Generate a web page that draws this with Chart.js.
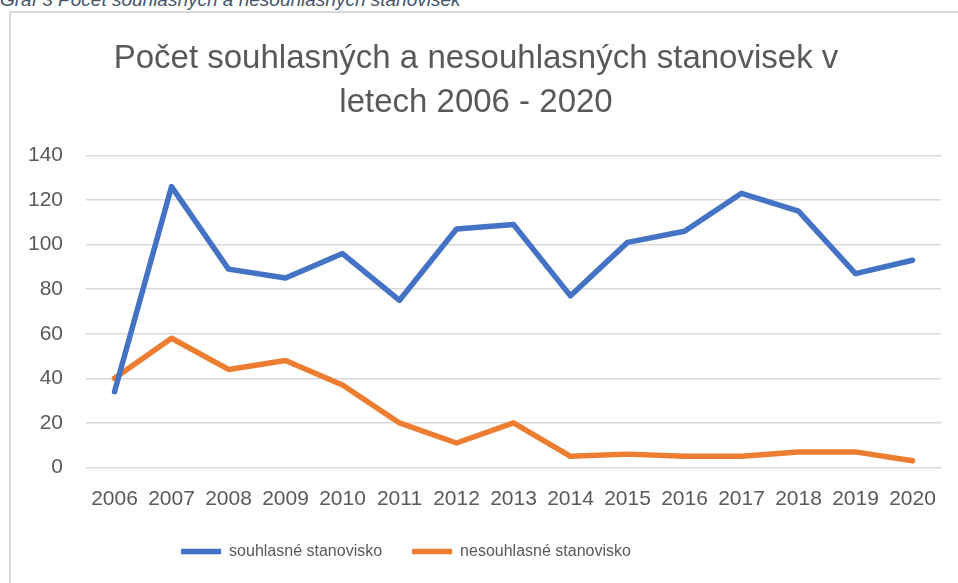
<!DOCTYPE html>
<html>
<head>
<meta charset="utf-8">
<script src="https://cdn.jsdelivr.net/npm/chart.js@4"></script>
<style>
  html, body { margin: 0; padding: 0; background: #fff; overflow: hidden; width: 958px; height: 583px; }
  #popisek {
    position: absolute; left: 0; top: -11px; line-height: 1;
    font: italic 19px "Liberation Sans", sans-serif; color: #44546A; white-space: nowrap;
  }
  #ramecek {
    position: absolute; left: 9px; top: 11px; width: 962px; height: 600px;
    border-left: 2px solid #d9d9d9; border-top: 2px solid #d9d9d9;
  }
  #graf { position: absolute; left: 0; top: 0; }
</style>
</head>
<body>
<div id="popisek">Graf 3 Počet souhlasných a nesouhlasných stanovisek</div>
<div id="ramecek"><canvas id="graf" width="960" height="590"></canvas></div>
<script>
// data
const roky = ['2006', '2007', '2008', '2009', '2010', '2011', '2012', '2013', '2014', '2015', '2016', '2017', '2018', '2019', '2020'];
const souhlasne = [34, 126, 89, 85, 96, 75, 107, 109, 77, 101, 106, 123, 115, 87, 93];
const nesouhlasne = [40, 58, 44, 48, 37, 20, 11, 20, 5, 6, 5, 5, 7, 7, 3];
const osaY = [0, 20, 40, 60, 80, 100, 120, 140];

const SEDA = '#595959';
const FONT = "'Liberation Sans', Arial, sans-serif";

const serie = (label, data, barva) => ({
    label: label,
    data: data,
    borderColor: barva,
    backgroundColor: barva,
    borderWidth: 5.5,
    borderCapStyle: 'round',
    borderJoinStyle: 'round',
    pointRadius: 0,
    pointHoverRadius: 0,
    tension: 0,
    fill: false
});

// legenda v Excelu neni uprostred, posuneme ji doleva
const posunLegendy = {
    id: 'posunLegendy',
    afterLayout(chart) {
        const lg = chart.legend;
        lg.left -= 70;
        lg.right -= 70;
    }
};

new Chart(document.getElementById('graf'), {
    type: 'line',
    data: {
        labels: roky,
        datasets: [
            serie('souhlasné stanovisko', souhlasne, '#4472C4'),
            serie('nesouhlasné stanovisko', nesouhlasne, '#ED7D31')
        ]
    },
    options: {
        responsive: false,
        animation: false,
        layout: { padding: { left: 0, right: 30, top: 0, bottom: 33.5 } },
        plugins: {
            title: {
                display: true,
                text: ['Počet souhlasných a nesouhlasných stanovisek v', 'letech 2006 - 2020'],
                color: SEDA,
                font: { family: FONT, size: 33, weight: 'normal', lineHeight: 1.34 },
                padding: { top: 24, bottom: 30 }
            },
            legend: {
                position: 'bottom',
                labels: {
                    color: SEDA,
                    font: { family: FONT, size: 16 },
                    usePointStyle: true,
                    pointStyle: 'line',
                    pointStyleWidth: 40,
                    padding: 30
                }
            },
            tooltip: { enabled: false }
        },
        scales: {
            x: {
                offset: true,
                grid: { display: false, drawTicks: false },
                border: { display: false },
                ticks: { color: SEDA, font: { family: FONT, size: 21 }, padding: 19, maxRotation: 0, autoSkip: false },
                afterFit: (s) => { s.height = 46; }
            },
            y: {
                min: 0,
                max: 140,
                afterBuildTicks: (s) => { s.ticks = osaY.map(v => ({ value: v })); },
                grid: { color: '#d9d9d9', lineWidth: 1.5, drawTicks: false },
                border: { display: false },
                ticks: { color: SEDA, font: { family: FONT, size: 21 }, padding: 23 },
                afterFit: (s) => { s.width = 75; }
            }
        }
    },
    plugins: [posunLegendy]
});
</script>
</body>
</html>
